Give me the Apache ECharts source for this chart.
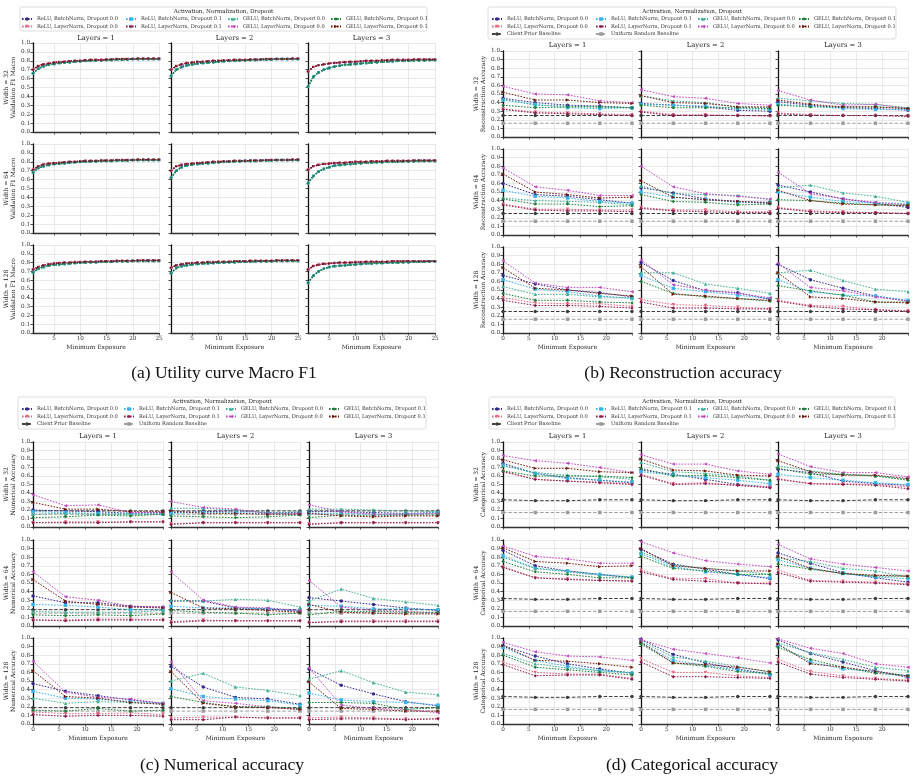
<!DOCTYPE html>
<html lang="en">
<head>
<meta charset="UTF-8">
<title>Exposure sweep: F1 and reconstruction accuracy</title>
<script src="https://cdn.jsdelivr.net/npm/echarts@6/dist/echarts.min.js"></script>
</head>
<body style="margin:0;background:#fff">
<div id="main" style="width:915px;height:780px"></div>
<script type="text/javascript">
// ---- data (each metric array: 9 subplots, index = row*3 + col; rows = width 32/64/128, cols = layers 1/2/3)
var widths = [32, 64, 128];
var layerCounts = [1, 2, 3];
var configNames = [
    'ReLU, BatchNorm, Dropout 0.0', 'ReLU, LayerNorm, Dropout 0.0',
    'ReLU, BatchNorm, Dropout 0.1', 'ReLU, LayerNorm, Dropout 0.1',
    'GELU, BatchNorm, Dropout 0.0', 'GELU, LayerNorm, Dropout 0.0',
    'GELU, BatchNorm, Dropout 0.1', 'GELU, LayerNorm, Dropout 0.1'
];
var baselineNames = ['Client Prior Baseline', 'Uniform Random Baseline'];

var f1_exposure = [1,2,3,4,5,6,7,8,9,10,11,12,13,14,15,16,17,18,19,20,21,22,23,24,25];
var f1_layernorm = [
    [0.70,0.74,0.76,0.77,0.78,0.785,0.79,0.795,0.80,0.80,0.805,0.81,0.81,0.81,0.815,0.815,0.82,0.82,0.82,0.82,0.825,0.825,0.825,0.825,0.825],
    [0.70,0.74,0.76,0.775,0.78,0.79,0.79,0.795,0.80,0.80,0.805,0.805,0.81,0.81,0.81,0.815,0.815,0.815,0.82,0.82,0.82,0.82,0.82,0.825,0.825],
    [0.68,0.73,0.75,0.76,0.77,0.775,0.78,0.785,0.79,0.79,0.795,0.80,0.80,0.80,0.805,0.805,0.81,0.81,0.81,0.81,0.815,0.815,0.815,0.815,0.815],
    [0.71,0.75,0.77,0.78,0.785,0.79,0.795,0.80,0.80,0.805,0.81,0.81,0.81,0.815,0.815,0.815,0.82,0.82,0.82,0.82,0.825,0.825,0.825,0.825,0.825],
    [0.70,0.75,0.765,0.775,0.78,0.785,0.79,0.795,0.80,0.80,0.805,0.805,0.81,0.81,0.81,0.815,0.815,0.815,0.82,0.82,0.82,0.82,0.82,0.825,0.825],
    [0.71,0.75,0.765,0.775,0.78,0.785,0.79,0.79,0.795,0.80,0.80,0.80,0.805,0.805,0.805,0.81,0.81,0.81,0.81,0.81,0.815,0.815,0.815,0.815,0.815],
    [0.72,0.75,0.77,0.78,0.79,0.795,0.80,0.80,0.805,0.805,0.81,0.81,0.81,0.815,0.815,0.815,0.82,0.82,0.82,0.82,0.825,0.825,0.825,0.825,0.825],
    [0.74,0.77,0.78,0.79,0.795,0.80,0.80,0.805,0.805,0.81,0.81,0.81,0.815,0.815,0.815,0.82,0.82,0.82,0.82,0.82,0.825,0.825,0.825,0.825,0.825],
    [0.72,0.76,0.775,0.785,0.79,0.795,0.80,0.80,0.80,0.805,0.805,0.81,0.81,0.81,0.81,0.81,0.815,0.815,0.815,0.815,0.815,0.815,0.815,0.815,0.815]
];
var f1_batchnorm = [
    [0.66,0.71,0.74,0.755,0.765,0.775,0.78,0.785,0.79,0.795,0.80,0.80,0.805,0.805,0.81,0.81,0.815,0.815,0.815,0.82,0.82,0.82,0.82,0.82,0.82],
    [0.63,0.70,0.73,0.75,0.76,0.77,0.775,0.78,0.785,0.79,0.795,0.80,0.80,0.805,0.805,0.81,0.81,0.815,0.815,0.815,0.82,0.82,0.82,0.82,0.82],
    [0.51,0.62,0.67,0.70,0.72,0.735,0.745,0.755,0.76,0.765,0.77,0.775,0.78,0.785,0.79,0.79,0.795,0.80,0.80,0.80,0.805,0.805,0.805,0.81,0.81],
    [0.68,0.73,0.75,0.765,0.775,0.78,0.785,0.79,0.795,0.80,0.80,0.805,0.805,0.81,0.81,0.81,0.815,0.815,0.815,0.82,0.82,0.82,0.82,0.82,0.82],
    [0.62,0.70,0.74,0.76,0.77,0.775,0.78,0.785,0.79,0.795,0.80,0.80,0.805,0.805,0.81,0.81,0.81,0.815,0.815,0.815,0.82,0.82,0.82,0.82,0.82],
    [0.56,0.64,0.69,0.72,0.74,0.755,0.765,0.77,0.775,0.78,0.785,0.79,0.79,0.795,0.795,0.80,0.80,0.80,0.805,0.805,0.805,0.81,0.81,0.81,0.81],
    [0.69,0.73,0.75,0.765,0.775,0.78,0.785,0.79,0.795,0.80,0.80,0.805,0.805,0.81,0.81,0.81,0.815,0.815,0.815,0.82,0.82,0.82,0.82,0.82,0.82],
    [0.68,0.74,0.76,0.77,0.78,0.785,0.79,0.79,0.795,0.80,0.80,0.805,0.805,0.81,0.81,0.81,0.815,0.815,0.815,0.815,0.82,0.82,0.82,0.82,0.82],
    [0.57,0.65,0.70,0.73,0.75,0.76,0.765,0.77,0.775,0.78,0.785,0.79,0.79,0.795,0.795,0.80,0.80,0.80,0.805,0.805,0.81,0.81,0.81,0.815,0.815]
];

var exposure = [0, 6.25, 12.5, 18.75, 25];

// (b) reconstruction accuracy
var recon_relu_bn_00 = [[0.45,0.40,0.37,0.36,0.34],[0.39,0.37,0.35,0.31,0.30],[0.41,0.37,0.34,0.33,0.31],[0.60,0.47,0.45,0.41,0.37],[0.55,0.49,0.42,0.39,0.38],[0.58,0.50,0.42,0.37,0.32],[0.67,0.57,0.50,0.47,0.42],[0.82,0.61,0.49,0.47,0.39],[0.80,0.62,0.52,0.43,0.37]];
var recon_relu_ln_00 = [[0.33,0.29,0.28,0.27,0.26],[0.30,0.26,0.26,0.25,0.24],[0.28,0.26,0.25,0.25,0.24],[0.36,0.30,0.30,0.29,0.29],[0.32,0.29,0.29,0.27,0.27],[0.32,0.28,0.27,0.26,0.25],[0.41,0.35,0.34,0.34,0.31],[0.39,0.33,0.32,0.30,0.28],[0.38,0.32,0.31,0.27,0.26]];
var recon_relu_bn_01 = [[0.43,0.38,0.34,0.33,0.34],[0.38,0.37,0.36,0.33,0.32],[0.38,0.36,0.33,0.32,0.32],[0.52,0.45,0.43,0.39,0.37],[0.50,0.44,0.41,0.38,0.37],[0.50,0.44,0.39,0.37,0.37],[0.62,0.51,0.48,0.43,0.40],[0.67,0.52,0.48,0.44,0.40],[0.62,0.48,0.44,0.43,0.38]];
var recon_relu_ln_01 = [[0.32,0.28,0.27,0.26,0.25],[0.29,0.25,0.25,0.25,0.25],[0.27,0.25,0.25,0.25,0.24],[0.35,0.29,0.28,0.28,0.27],[0.31,0.28,0.27,0.26,0.26],[0.31,0.27,0.26,0.26,0.25],[0.38,0.32,0.32,0.31,0.29],[0.36,0.29,0.29,0.28,0.28],[0.37,0.31,0.28,0.27,0.25]];
var recon_gelu_bn_00 = [[0.44,0.37,0.36,0.35,0.34],[0.48,0.42,0.40,0.35,0.34],[0.45,0.42,0.39,0.38,0.34],[0.43,0.40,0.39,0.38,0.35],[0.57,0.48,0.47,0.46,0.41],[0.55,0.58,0.49,0.45,0.38],[0.54,0.45,0.45,0.42,0.41],[0.70,0.70,0.57,0.52,0.46],[0.70,0.73,0.61,0.51,0.48]];
var recon_gelu_ln_00 = [[0.59,0.50,0.49,0.42,0.40],[0.55,0.47,0.45,0.39,0.37],[0.54,0.43,0.37,0.38,0.33],[0.78,0.56,0.52,0.46,0.46],[0.80,0.56,0.48,0.45,0.42],[0.73,0.48,0.42,0.38,0.35],[0.84,0.58,0.53,0.53,0.48],[0.85,0.56,0.50,0.46,0.41],[0.81,0.53,0.49,0.42,0.37]];
var recon_gelu_bn_01 = [[0.37,0.34,0.35,0.35,0.34],[0.37,0.34,0.34,0.34,0.33],[0.37,0.35,0.35,0.35,0.33],[0.42,0.36,0.36,0.33,0.34],[0.47,0.39,0.38,0.35,0.36],[0.41,0.40,0.37,0.35,0.35],[0.46,0.38,0.38,0.36,0.35],[0.60,0.46,0.42,0.40,0.37],[0.55,0.49,0.44,0.36,0.36]];
var recon_gelu_ln_01 = [[0.52,0.43,0.43,0.40,0.39],[0.48,0.40,0.39,0.35,0.35],[0.43,0.38,0.35,0.35,0.33],[0.71,0.50,0.47,0.43,0.44],[0.63,0.44,0.41,0.39,0.37],[0.52,0.40,0.36,0.35,0.34],[0.76,0.52,0.50,0.46,0.43],[0.77,0.45,0.43,0.40,0.38],[0.70,0.42,0.40,0.36,0.35]];
var recon_client = [0.25,0.25,0.25,0.25,0.25];
var recon_uniform = [0.16,0.16,0.16,0.16,0.16];

// (c) numerical accuracy
var num_relu_bn_00 = [[0.20,0.19,0.18,0.16,0.17],[0.17,0.18,0.19,0.17,0.17],[0.18,0.18,0.17,0.16,0.17],[0.35,0.27,0.27,0.23,0.22],[0.29,0.29,0.21,0.20,0.17],[0.33,0.29,0.25,0.21,0.18],[0.47,0.38,0.33,0.28,0.24],[0.67,0.43,0.31,0.29,0.23],[0.64,0.45,0.35,0.26,0.21]];
var num_relu_ln_00 = [[0.05,0.06,0.06,0.06,0.06],[0.04,0.05,0.05,0.05,0.05],[0.04,0.05,0.05,0.05,0.05],[0.07,0.07,0.08,0.08,0.07],[0.05,0.07,0.06,0.06,0.06],[0.04,0.06,0.06,0.06,0.06],[0.14,0.12,0.12,0.13,0.11],[0.07,0.08,0.08,0.07,0.07],[0.07,0.08,0.07,0.06,0.06]];
var num_relu_bn_01 = [[0.18,0.17,0.16,0.16,0.16],[0.16,0.17,0.17,0.16,0.16],[0.16,0.16,0.15,0.15,0.17],[0.25,0.24,0.22,0.19,0.19],[0.23,0.21,0.21,0.20,0.18],[0.24,0.23,0.20,0.20,0.19],[0.38,0.30,0.29,0.26,0.24],[0.41,0.32,0.29,0.27,0.22],[0.36,0.28,0.26,0.25,0.22]];
var num_relu_ln_01 = [[0.05,0.05,0.05,0.06,0.06],[0.03,0.05,0.05,0.05,0.05],[0.03,0.05,0.05,0.05,0.05],[0.07,0.06,0.07,0.07,0.07],[0.04,0.06,0.06,0.06,0.06],[0.04,0.05,0.05,0.05,0.05],[0.11,0.09,0.10,0.10,0.09],[0.05,0.05,0.08,0.07,0.07],[0.05,0.06,0.06,0.05,0.06]];
var num_gelu_bn_00 = [[0.15,0.16,0.15,0.15,0.15],[0.22,0.22,0.20,0.17,0.18],[0.21,0.21,0.20,0.19,0.18],[0.17,0.16,0.16,0.16,0.18],[0.30,0.29,0.31,0.30,0.22],[0.29,0.43,0.32,0.28,0.24],[0.30,0.24,0.26,0.25,0.23],[0.50,0.59,0.43,0.39,0.33],[0.52,0.62,0.48,0.37,0.34]];
var num_gelu_ln_00 = [[0.38,0.25,0.26,0.17,0.17],[0.30,0.23,0.21,0.16,0.16],[0.26,0.18,0.15,0.15,0.16],[0.63,0.34,0.30,0.23,0.22],[0.63,0.30,0.22,0.21,0.18],[0.53,0.22,0.18,0.17,0.15],[0.73,0.37,0.31,0.29,0.24],[0.72,0.27,0.24,0.20,0.17],[0.65,0.22,0.18,0.17,0.13]];
var num_gelu_bn_01 = [[0.11,0.12,0.14,0.13,0.15],[0.13,0.12,0.11,0.12,0.14],[0.11,0.14,0.13,0.14,0.14],[0.13,0.12,0.13,0.12,0.14],[0.18,0.16,0.15,0.13,0.15],[0.13,0.17,0.17,0.16,0.16],[0.16,0.15,0.18,0.15,0.16],[0.32,0.25,0.20,0.20,0.18],[0.25,0.25,0.24,0.17,0.19]];
var num_gelu_ln_01 = [[0.29,0.21,0.21,0.18,0.18],[0.19,0.16,0.16,0.15,0.15],[0.16,0.13,0.12,0.13,0.13],[0.54,0.29,0.25,0.22,0.21],[0.39,0.21,0.20,0.18,0.16],[0.25,0.16,0.15,0.14,0.14],[0.62,0.32,0.30,0.25,0.23],[0.61,0.24,0.20,0.19,0.17],[0.49,0.18,0.17,0.15,0.15]];
var num_client = [0.19,0.19,0.19,0.19,0.19];
var num_uniform = [0.15,0.15,0.15,0.15,0.15];

// (d) categorical accuracy
var cat_relu_bn_00 = [[0.75,0.63,0.58,0.55,0.52],[0.67,0.62,0.56,0.50,0.47],[0.68,0.64,0.54,0.51,0.49],[0.88,0.70,0.64,0.60,0.56],[0.89,0.72,0.66,0.60,0.55],[0.85,0.73,0.62,0.56,0.51],[0.91,0.79,0.70,0.64,0.59],[0.98,0.81,0.71,0.64,0.58],[0.98,0.82,0.72,0.62,0.54]];
var cat_relu_ln_00 = [[0.66,0.56,0.54,0.53,0.51],[0.62,0.51,0.52,0.49,0.47],[0.57,0.51,0.51,0.50,0.47],[0.69,0.56,0.55,0.53,0.53],[0.65,0.55,0.55,0.50,0.50],[0.65,0.53,0.52,0.51,0.49],[0.72,0.60,0.58,0.58,0.53],[0.76,0.60,0.60,0.56,0.54],[0.75,0.61,0.56,0.53,0.51]];
var cat_relu_bn_01 = [[0.73,0.63,0.57,0.55,0.53],[0.65,0.61,0.58,0.55,0.51],[0.62,0.58,0.55,0.52,0.50],[0.82,0.67,0.64,0.60,0.57],[0.84,0.69,0.63,0.60,0.56],[0.77,0.67,0.61,0.57,0.55],[0.89,0.74,0.67,0.62,0.59],[0.94,0.74,0.68,0.63,0.57],[0.92,0.72,0.64,0.61,0.56]];
var cat_relu_ln_01 = [[0.65,0.56,0.54,0.52,0.50],[0.61,0.50,0.51,0.49,0.46],[0.56,0.51,0.50,0.49,0.45],[0.68,0.56,0.54,0.53,0.52],[0.63,0.54,0.52,0.50,0.49],[0.62,0.52,0.51,0.50,0.48],[0.69,0.56,0.57,0.57,0.52],[0.72,0.55,0.55,0.54,0.53],[0.72,0.58,0.54,0.52,0.50]];
var cat_gelu_bn_00 = [[0.72,0.64,0.61,0.59,0.56],[0.76,0.65,0.63,0.60,0.55],[0.72,0.66,0.62,0.60,0.56],[0.80,0.67,0.63,0.59,0.57],[0.86,0.71,0.67,0.64,0.60],[0.79,0.75,0.67,0.64,0.57],[0.82,0.70,0.65,0.62,0.60],[0.96,0.78,0.73,0.67,0.60],[0.94,0.83,0.75,0.66,0.62]];
var cat_gelu_ln_00 = [[0.84,0.78,0.75,0.70,0.64],[0.85,0.74,0.74,0.66,0.62],[0.86,0.71,0.64,0.64,0.59],[0.93,0.81,0.78,0.73,0.73],[0.98,0.85,0.76,0.72,0.69],[0.95,0.78,0.72,0.68,0.64],[0.95,0.84,0.79,0.78,0.74],[0.98,0.87,0.82,0.77,0.71],[0.99,0.88,0.82,0.70,0.66]];
var cat_gelu_bn_01 = [[0.66,0.60,0.60,0.60,0.58],[0.69,0.60,0.61,0.58,0.55],[0.69,0.62,0.62,0.60,0.55],[0.75,0.63,0.60,0.56,0.56],[0.81,0.67,0.64,0.60,0.60],[0.72,0.66,0.61,0.58,0.58],[0.80,0.66,0.63,0.60,0.57],[0.93,0.71,0.67,0.61,0.59],[0.89,0.75,0.66,0.59,0.56]];
var cat_gelu_ln_01 = [[0.79,0.69,0.69,0.65,0.64],[0.80,0.67,0.66,0.61,0.60],[0.78,0.65,0.61,0.61,0.57],[0.91,0.75,0.73,0.69,0.70],[0.90,0.70,0.67,0.64,0.64],[0.81,0.67,0.61,0.59,0.58],[0.91,0.74,0.73,0.70,0.66],[0.95,0.71,0.69,0.66,0.61],[0.93,0.70,0.66,0.61,0.56]];
var cat_client = [0.32,0.31,0.31,0.32,0.32];
var cat_uniform = [0.17,0.17,0.17,0.17,0.17];

// ---- styles
var DOT = [1.6, 1.4];
var DASH = [3.5, 1.8];
var styles = {
    'ReLU, BatchNorm, Dropout 0.0': {color: '#35298c', symbol: 'circle', rotate: 0},
    'ReLU, LayerNorm, Dropout 0.0': {color: '#e0687f', symbol: 'triangle', rotate: 180},
    'ReLU, BatchNorm, Dropout 0.1': {color: '#37b5ea', symbol: 'rect', rotate: 0},
    'ReLU, LayerNorm, Dropout 0.1': {color: '#8c1d50', symbol: 'diamond', rotate: 0},
    'GELU, BatchNorm, Dropout 0.0': {color: '#3fae96', symbol: 'triangle', rotate: 0},
    'GELU, LayerNorm, Dropout 0.0': {color: '#c24abd', symbol: 'triangle', rotate: 90},
    'GELU, BatchNorm, Dropout 0.1': {color: '#1b7f39', symbol: 'diamond', rotate: 0},
    'GELU, LayerNorm, Dropout 0.1': {color: '#701a0d', symbol: 'triangle', rotate: -90},
    'Client Prior Baseline': {color: '#3c3c3c', symbol: 'circle', rotate: 0, dash: DASH},
    'Uniform Random Baseline': {color: '#9c9c9c', symbol: 'rect', rotate: 0, dash: DASH}
};
var SERIF = '"DejaVu Serif", serif';

var panels = [
    {metric: 'Validation F1 Macro', caption: '(a) Utility curve Macro F1', xs: f1_exposure, xMin: 1,
     lines: [f1_batchnorm, f1_layernorm, f1_batchnorm, f1_layernorm, f1_batchnorm, f1_layernorm, f1_batchnorm, f1_layernorm],
     baselines: null,
     cols: [[33, 159], [171, 298], [308, 435]], rows: [[43, 132], [144, 233], [245, 333]], titleY: 38,
     box: [20, 7, 407, 24], legendX: [21, 125, 227, 330], legendY: 19, captionPos: [224, 373]},
    {metric: 'Reconstruction Accuracy', caption: '(b) Reconstruction accuracy', xs: exposure, xMin: 0,
     lines: [recon_relu_bn_00, recon_relu_ln_00, recon_relu_bn_01, recon_relu_ln_01, recon_gelu_bn_00, recon_gelu_ln_00, recon_gelu_bn_01, recon_gelu_ln_01],
     baselines: [recon_client, recon_uniform],
     cols: [[503, 632], [641, 770], [778, 908]], rows: [[51, 137], [149, 235], [247, 333]], titleY: 45,
     box: [488, 7, 408, 32], legendX: [491, 595, 697, 798], legendY: 19, captionPos: [683, 373]},
    {metric: 'Numerical Accuracy', caption: '(c) Numerical accuracy', xs: exposure, xMin: 0,
     lines: [num_relu_bn_00, num_relu_ln_00, num_relu_bn_01, num_relu_ln_01, num_gelu_bn_00, num_gelu_ln_00, num_gelu_bn_01, num_gelu_ln_01],
     baselines: [num_client, num_uniform],
     cols: [[33, 163], [171, 300], [309, 438]], rows: [[442, 527], [540, 626], [638, 724]], titleY: 436,
     box: [18, 397, 408, 32], legendX: [21, 123, 225, 328], legendY: 409, captionPos: [222, 765]},
    {metric: 'Categorical Accuracy', caption: '(d) Categorical accuracy', xs: exposure, xMin: 0,
     lines: [cat_relu_bn_00, cat_relu_ln_00, cat_relu_bn_01, cat_relu_ln_01, cat_gelu_bn_00, cat_gelu_ln_00, cat_gelu_bn_01, cat_gelu_ln_01],
     baselines: [cat_client, cat_uniform],
     cols: [[503, 632], [641, 770], [778, 908]], rows: [[442, 527], [540, 626], [638, 724]], titleY: 436,
     box: [489, 397, 406, 32], legendX: [491, 595, 697, 798], legendY: 409, captionPos: [692, 765]}
];

var grids = [], xAxes = [], yAxes = [], series = [], legends = [], graphics = [];

function makeLine(name, gi, xs, ys, dense) {
    var st = styles[name];
    return {
        type: 'line', name: name, xAxisIndex: gi, yAxisIndex: gi,
        data: xs.map(function (x, i) { return [x, ys[i]]; }),
        symbol: st.symbol, symbolRotate: st.rotate, symbolSize: dense ? 2.6 : 3.4,
        itemStyle: {color: st.color},
        lineStyle: {color: st.color, width: dense ? 1.4 : 1, type: st.dash || DOT},
        silent: true, z: 3
    };
}

panels.forEach(function (p) {
    for (var r = 0; r < 3; r++) {
        for (var c = 0; c < 3; c++) {
            var gi = grids.length, k = r * 3 + c;
            var isA = p.xMin === 1;
            grids.push({left: p.cols[c][0], top: p.rows[r][0],
                width: p.cols[c][1] - p.cols[c][0], height: p.rows[r][1] - p.rows[r][0]});
            var xa = {
                type: 'value', gridIndex: gi, min: p.xMin, max: 25,
                name: r === 2 ? 'Minimum Exposure' : '', nameLocation: 'middle', nameGap: 11,
                nameTextStyle: {fontFamily: SERIF, fontSize: 6, color: '#222'},
                axisLine: {show: true, lineStyle: {color: '#333', width: 1.3}},
                axisTick: {show: true, length: 2.5, lineStyle: {color: '#333', width: 0.8}},
                axisLabel: {show: r === 2, margin: 3, fontFamily: SERIF, fontSize: 5.7, color: '#333',
                    formatter: function (v) { return (!isA && v === 25) ? '' : String(v); }},
                splitLine: {show: true, lineStyle: {color: '#e3e3e3', width: 0.8}}
            };
            if (isA) {
                xa.axisTick.customValues = [5, 10, 15, 20, 25];
                xa.axisLabel.customValues = [5, 10, 15, 20, 25];
            } else {
                xa.interval = 5;
            }
            xAxes.push(xa);
            yAxes.push({
                type: 'value', gridIndex: gi, min: 0, max: 1, interval: 0.1,
                name: c === 0 ? 'Width = ' + widths[r] + '\n' + p.metric : '',
                nameLocation: 'middle', nameGap: 14,
                nameTextStyle: {fontFamily: SERIF, fontSize: 6, color: '#222', lineHeight: 7},
                axisLine: {show: true, lineStyle: {color: '#111', width: 1.3}},
                axisTick: {show: true, length: 2.5, lineStyle: {color: '#222', width: 0.8}},
                axisLabel: {show: c === 0, margin: 3, fontFamily: SERIF, fontSize: 5.7, color: '#333',
                    formatter: function (v) { return v.toFixed(1); }},
                splitLine: {show: true, lineStyle: {color: '#e3e3e3', width: 0.8}}
            });
            if (p.baselines) {
                baselineNames.forEach(function (bn, bi) {
                    series.push(makeLine(bn, gi, p.xs, p.baselines[bi], false));
                });
            }
            configNames.forEach(function (nm, si) {
                series.push(makeLine(nm, gi, p.xs, p.lines[si][k], isA));
            });
            if (r === 0) {
                graphics.push({type: 'text', x: (p.cols[c][0] + p.cols[c][1]) / 2, y: p.titleY,
                    style: {text: 'Layers = ' + layerCounts[c], textAlign: 'center', textVerticalAlign: 'middle',
                        font: '6.8px ' + SERIF, fill: '#222'}});
            }
        }
    }
    // legend frame and title
    graphics.push({type: 'rect', z: -1, shape: {x: p.box[0], y: p.box[1], width: p.box[2], height: p.box[3], r: 2},
        style: {fill: '#fff', stroke: '#d4d4d4', lineWidth: 0.8}});
    graphics.push({type: 'text', x: p.box[0] + p.box[2] / 2, y: p.box[1] + 5,
        style: {text: 'Activation, Normalization, Dropout', textAlign: 'center', textVerticalAlign: 'middle',
            font: '5.6px ' + SERIF, fill: '#222'}});
    graphics.push({type: 'text', x: p.captionPos[0], y: p.captionPos[1],
        style: {text: p.caption, textAlign: 'center', textVerticalAlign: 'middle',
            font: '17.5px "Liberation Serif", serif', fill: '#111'}});
    var legendCols = [
        [configNames[0], configNames[1]], [configNames[2], configNames[3]],
        [configNames[4], configNames[5]], [configNames[6], configNames[7]]
    ];
    if (p.baselines) {
        legendCols[0].push(baselineNames[0]);
        legendCols[1].push(baselineNames[1]);
    }
    legendCols.forEach(function (names, li) {
        legends.push({
            orient: 'vertical', left: p.legendX[li], top: p.legendY - 3.5, padding: 0,
            itemWidth: 10, itemHeight: 4.5, itemGap: 0.5, selectedMode: false,
            textStyle: {fontFamily: SERIF, fontSize: 5.1, color: '#333', lineHeight: 7},
            data: names
        });
    });
});

var myChart = echarts.init(document.getElementById('main'));
myChart.setOption({
    backgroundColor: '#fff',
    animation: false,
    grid: grids,
    xAxis: xAxes,
    yAxis: yAxes,
    legend: legends,
    graphic: graphics,
    series: series
});
</script>
</body>
</html>
